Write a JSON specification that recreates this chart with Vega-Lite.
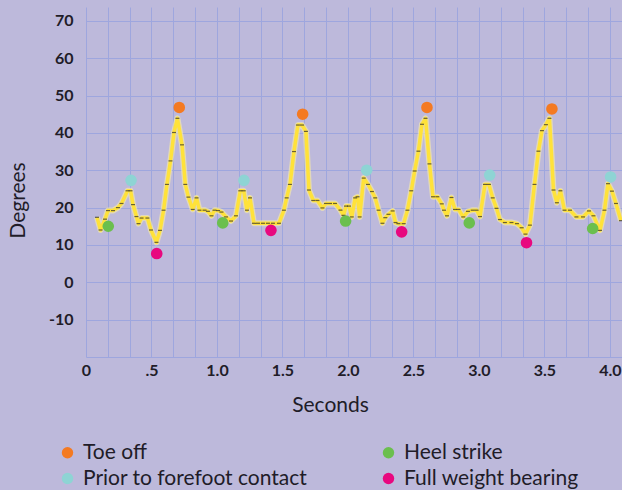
{
  "$schema": "https://vega.github.io/schema/vega-lite/v6.json",
  "width": 536,
  "height": 350,
  "autosize": {"type": "none"},
  "padding": {"left": 86, "top": 7, "right": 0, "bottom": 133},
  "background": "#BDB9DB",
  "config": {
    "view": {"stroke": null, "fill": "#BDB9DB"},
    "font": "Lato"
  },
  "datasets": {
    "series": [
      {"t": 0.084, "deg": 17.4}, {"t": 0.111, "deg": 14.0}, {"t": 0.145, "deg": 16.9}, {"t": 0.168, "deg": 19.2},
      {"t": 0.206, "deg": 19.2}, {"t": 0.244, "deg": 20.0}, {"t": 0.271, "deg": 21.1}, {"t": 0.317, "deg": 24.5},
      {"t": 0.340, "deg": 24.5}, {"t": 0.359, "deg": 20.8}, {"t": 0.385, "deg": 17.6}, {"t": 0.401, "deg": 15.7},
      {"t": 0.424, "deg": 17.2}, {"t": 0.469, "deg": 17.2}, {"t": 0.496, "deg": 14.0}, {"t": 0.538, "deg": 10.7},
      {"t": 0.565, "deg": 13.9}, {"t": 0.592, "deg": 19.3}, {"t": 0.618, "deg": 26.2}, {"t": 0.645, "deg": 32.5},
      {"t": 0.672, "deg": 40.1}, {"t": 0.698, "deg": 43.9}, {"t": 0.733, "deg": 36.8}, {"t": 0.758, "deg": 26.2},
      {"t": 0.782, "deg": 22.8}, {"t": 0.815, "deg": 19.5}, {"t": 0.844, "deg": 22.6}, {"t": 0.866, "deg": 19.3},
      {"t": 0.905, "deg": 19.3}, {"t": 0.931, "deg": 19.0}, {"t": 0.958, "deg": 17.8}, {"t": 0.981, "deg": 19.3},
      {"t": 1.008, "deg": 19.2}, {"t": 1.034, "deg": 18.8}, {"t": 1.069, "deg": 17.5}, {"t": 1.107, "deg": 16.4},
      {"t": 1.145, "deg": 17.8}, {"t": 1.178, "deg": 24.5}, {"t": 1.204, "deg": 24.5}, {"t": 1.229, "deg": 19.3},
      {"t": 1.252, "deg": 22.6}, {"t": 1.282, "deg": 15.8}, {"t": 1.313, "deg": 15.8}, {"t": 1.351, "deg": 15.8},
      {"t": 1.389, "deg": 15.8}, {"t": 1.427, "deg": 15.8}, {"t": 1.473, "deg": 15.8}, {"t": 1.511, "deg": 19.3},
      {"t": 1.532, "deg": 22.6}, {"t": 1.557, "deg": 26.2}, {"t": 1.588, "deg": 35.0}, {"t": 1.618, "deg": 42.1},
      {"t": 1.649, "deg": 42.1}, {"t": 1.679, "deg": 40.4}, {"t": 1.702, "deg": 24.7}, {"t": 1.735, "deg": 21.9},
      {"t": 1.767, "deg": 21.9}, {"t": 1.805, "deg": 19.9}, {"t": 1.832, "deg": 21.1}, {"t": 1.863, "deg": 21.1},
      {"t": 1.901, "deg": 21.1}, {"t": 1.943, "deg": 19.3}, {"t": 1.966, "deg": 17.9}, {"t": 1.985, "deg": 20.4},
      {"t": 2.008, "deg": 20.4}, {"t": 2.029, "deg": 17.5}, {"t": 2.055, "deg": 22.6}, {"t": 2.073, "deg": 22.9},
      {"t": 2.089, "deg": 17.5}, {"t": 2.120, "deg": 27.9}, {"t": 2.153, "deg": 26.2}, {"t": 2.183, "deg": 24.3},
      {"t": 2.208, "deg": 22.6}, {"t": 2.234, "deg": 19.3}, {"t": 2.263, "deg": 15.8}, {"t": 2.285, "deg": 17.3},
      {"t": 2.309, "deg": 18.2}, {"t": 2.341, "deg": 19.1}, {"t": 2.363, "deg": 16.0}, {"t": 2.385, "deg": 15.7},
      {"t": 2.425, "deg": 15.7}, {"t": 2.454, "deg": 19.3}, {"t": 2.483, "deg": 24.5}, {"t": 2.509, "deg": 29.8},
      {"t": 2.538, "deg": 35.1}, {"t": 2.565, "deg": 42.3}, {"t": 2.592, "deg": 43.9}, {"t": 2.622, "deg": 31.7},
      {"t": 2.649, "deg": 22.9}, {"t": 2.682, "deg": 22.9}, {"t": 2.716, "deg": 21.0}, {"t": 2.733, "deg": 19.3},
      {"t": 2.756, "deg": 17.8}, {"t": 2.790, "deg": 22.7}, {"t": 2.817, "deg": 19.5}, {"t": 2.844, "deg": 19.5},
      {"t": 2.880, "deg": 17.5}, {"t": 2.916, "deg": 19.0}, {"t": 2.952, "deg": 19.3}, {"t": 2.982, "deg": 19.3},
      {"t": 3.008, "deg": 17.6}, {"t": 3.046, "deg": 26.2}, {"t": 3.076, "deg": 26.2}, {"t": 3.105, "deg": 22.6},
      {"t": 3.134, "deg": 19.8}, {"t": 3.160, "deg": 16.8}, {"t": 3.198, "deg": 16.0}, {"t": 3.248, "deg": 16.0},
      {"t": 3.290, "deg": 15.7}, {"t": 3.326, "deg": 14.6}, {"t": 3.355, "deg": 12.9}, {"t": 3.389, "deg": 15.3},
      {"t": 3.424, "deg": 26.2}, {"t": 3.454, "deg": 35.1}, {"t": 3.481, "deg": 40.6}, {"t": 3.511, "deg": 42.2},
      {"t": 3.538, "deg": 43.9}, {"t": 3.569, "deg": 24.7}, {"t": 3.595, "deg": 21.3}, {"t": 3.622, "deg": 24.5},
      {"t": 3.653, "deg": 19.3}, {"t": 3.695, "deg": 19.3}, {"t": 3.744, "deg": 17.5}, {"t": 3.794, "deg": 17.5},
      {"t": 3.840, "deg": 19.1}, {"t": 3.874, "deg": 17.8}, {"t": 3.924, "deg": 13.9}, {"t": 3.958, "deg": 19.3},
      {"t": 3.985, "deg": 26.4}, {"t": 4.015, "deg": 24.4}, {"t": 4.046, "deg": 21.1}, {"t": 4.084, "deg": 16.5}
    ],
    "events": [
      {"t": 0.712, "deg": 46.8, "event": "Toe off"},
      {"t": 1.654, "deg": 45.0, "event": "Toe off"},
      {"t": 2.603, "deg": 46.8, "event": "Toe off"},
      {"t": 3.557, "deg": 46.4, "event": "Toe off"},
      {"t": 0.344, "deg": 27.3, "event": "Prior to forefoot contact"},
      {"t": 1.206, "deg": 27.3, "event": "Prior to forefoot contact"},
      {"t": 2.143, "deg": 30.0, "event": "Prior to forefoot contact"},
      {"t": 3.082, "deg": 28.7, "event": "Prior to forefoot contact"},
      {"t": 4.005, "deg": 28.2, "event": "Prior to forefoot contact"},
      {"t": 0.170, "deg": 15.0, "event": "Heel strike"},
      {"t": 1.044, "deg": 15.9, "event": "Heel strike"},
      {"t": 1.982, "deg": 16.4, "event": "Heel strike"},
      {"t": 2.926, "deg": 15.9, "event": "Heel strike"},
      {"t": 3.868, "deg": 14.4, "event": "Heel strike"},
      {"t": 0.540, "deg": 7.7, "event": "Full weight bearing"},
      {"t": 1.412, "deg": 13.9, "event": "Full weight bearing"},
      {"t": 2.410, "deg": 13.5, "event": "Full weight bearing"},
      {"t": 3.363, "deg": 10.6, "event": "Full weight bearing"}
    ]
  },
  "encoding": {
    "x": {
      "field": "t", "type": "quantitative",
      "scale": {"domain": [0, 4.092], "nice": false, "zero": false},
      "axis": {
        "values": [0, 0.16667, 0.33333, 0.5, 0.66667, 0.83333, 1, 1.16667, 1.33333, 1.5, 1.66667, 1.83333, 2, 2.16667, 2.33333, 2.5, 2.66667, 2.83333, 3, 3.16667, 3.33333, 3.5, 3.66667, 3.83333, 4],
        "labelExpr": "abs(datum.value*2 - round(datum.value*2)) < 0.001 ? (datum.value == 0 ? '0' : (abs(datum.value - 0.5) < 0.001 ? '.5' : format(datum.value, '.1f'))) : ''",
        "labelOverlap": false,
        "labelFlush": false,
        "labelFont": "Lato", "labelFontWeight": "bold", "labelFontSize": 16, "labelColor": "#211c28",
        "labelPadding": 5,
        "domain": false, "ticks": false,
        "grid": true, "gridColor": "#9EA6DE", "gridWidth": 1,
        "title": "Seconds", "titleFont": "Lato", "titleFontWeight": "normal", "titleFontSize": 21, "titleColor": "#211c28",
        "titleX": 244, "titleY": 48, "titleBaseline": "middle", "titleAnchor": "middle", "titleAlign": "center"
      }
    },
    "y": {
      "field": "deg", "type": "quantitative",
      "scale": {"domain": [-20, 73.7], "nice": false, "zero": false},
      "axis": {
        "values": [-20, -10, 0, 10, 20, 30, 40, 50, 60, 70],
        "labelExpr": "datum.value < -15 ? '' : toString(datum.value)",
        "labelFont": "Lato", "labelFontWeight": "bold", "labelFontSize": 16, "labelColor": "#211c28",
        "labelPadding": 13,
        "domain": false, "ticks": false,
        "grid": true, "gridColor": "#9EA6DE", "gridWidth": 1,
        "title": "Degrees", "titleFont": "Lato", "titleFontWeight": "normal", "titleFontSize": 21, "titleColor": "#211c28",
        "titleX": -68, "titleY": 193, "titleBaseline": "middle", "titleAnchor": "middle", "titleAlign": "center", "titleAngle": -90
      }
    }
  },
  "layer": [
    {
      "data": {"name": "series"},
      "mark": {"type": "line", "color": "#FFF3A0", "strokeWidth": 6, "opacity": 0.55, "strokeJoin": "round", "clip": true},
      "encoding": {}
    },
    {
      "data": {"name": "series"},
      "mark": {"type": "line", "color": "#FFE23A", "strokeWidth": 3.5, "strokeJoin": "round", "clip": true},
      "encoding": {}
    },
    {
      "data": {"name": "series"},
      "mark": {"type": "tick", "orient": "horizontal", "color": "#2a2a2a", "size": 4, "thickness": 1.2, "clip": true},
      "encoding": {}
    },
    {
      "data": {"name": "events"},
      "mark": {"type": "circle", "size": 135, "opacity": 1},
      "encoding": {
        "color": {
          "field": "event", "type": "nominal",
          "scale": {
            "domain": ["Toe off", "Heel strike", "Prior to forefoot contact", "Full weight bearing"],
            "range": ["#F47A22", "#6BBF4E", "#8ED4D4", "#E8087F"]
          },
          "legend": {
            "title": null,
            "orient": "none",
            "direction": "horizontal",
            "legendX": -29,
            "legendY": 435,
            "columns": 2,
            "columnPadding": 70,
            "rowPadding": 4,
            "symbolType": "circle",
            "symbolSize": 130,
            "symbolStrokeWidth": 0,
            "labelFont": "Lato",
            "labelFontSize": 21,
            "labelColor": "#211c28",
            "labelOffset": 5,
            "labelLimit": 400
          }
        }
      }
    }
  ]
}
